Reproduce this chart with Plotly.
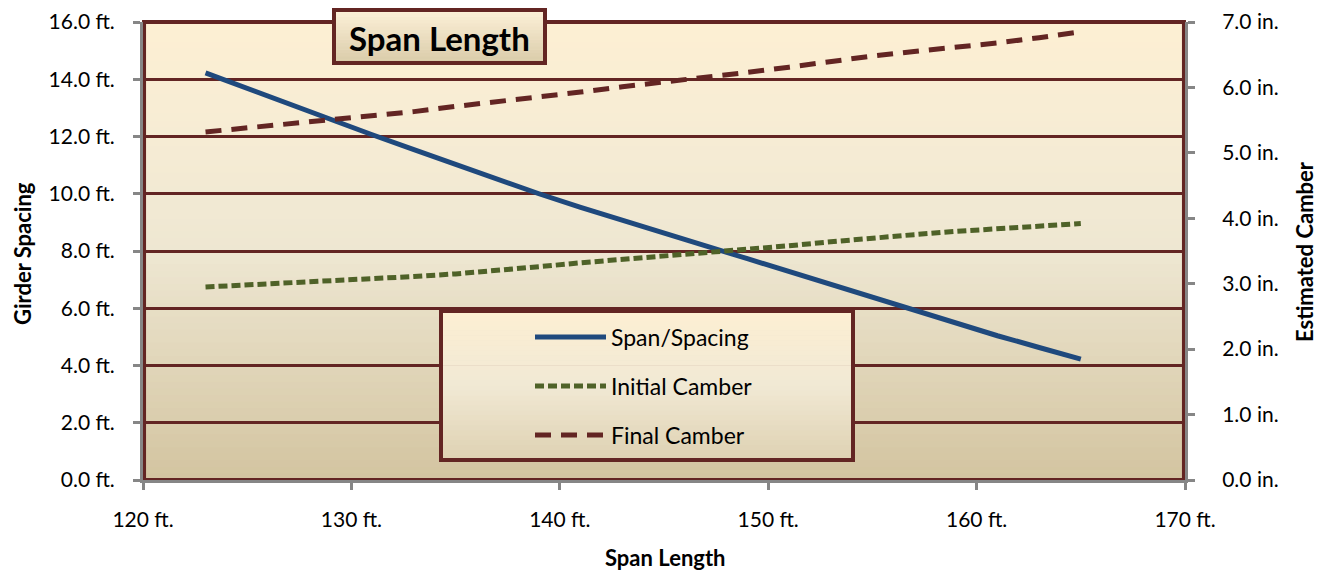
import plotly.graph_objects as go

# ---- data ----
span_ft = [123, 125, 127, 129, 131, 133, 135, 137, 139, 141, 143,
           145, 147, 149, 151, 153, 155, 157, 159, 161, 163, 165]
span_spacing_ft = [14.22, 13.67, 13.13, 12.59, 12.06, 11.54, 11.02, 10.51, 10.00, 9.52, 9.06,
                   8.62, 8.18, 7.73, 7.28, 6.83, 6.38, 5.90, 5.46, 5.04, 4.63, 4.22]
initial_camber_in = [2.95, 2.98, 3.01, 3.04, 3.07, 3.11, 3.15, 3.20, 3.26, 3.32, 3.37,
                     3.42, 3.47, 3.52, 3.58, 3.64, 3.70, 3.75, 3.80, 3.84, 3.88, 3.92]
final_camber_in = [5.32, 5.38, 5.44, 5.50, 5.56, 5.63, 5.71, 5.78, 5.85, 5.93, 6.01,
                   6.08, 6.15, 6.23, 6.31, 6.40, 6.48, 6.55, 6.61, 6.68, 6.76, 6.85]
series_names = ["Span/Spacing", "Initial Camber", "Final Camber"]
x_ticks = [120, 130, 140, 150, 160, 170]
y_left_ticks = [0, 2, 4, 6, 8, 10, 12, 14, 16]
y_right_ticks = [0, 1, 2, 3, 4, 5, 6, 7]

# ---- styles ----
BLUE = "#1F497D"
GREEN = "#4F6228"
MAROON = "#632523"
GRAY = "#868686"
FONT = "Lato"
W, H = 1323, 571
L, R, T, B = 143, 138, 22, 91
pw, ph = W - L - R, H - T - B


def hex_rgb(c):
    return [int(c[i:i + 2], 16) for i in (1, 3, 5)]


def grad_color(stops, t):
    for (p0, c0), (p1, c1) in zip(stops[:-1], stops[1:]):
        if p0 <= t <= p1:
            f = (t - p0) / (p1 - p0)
            a, b = hex_rgb(c0), hex_rgb(c1)
            return "rgb(%d,%d,%d)" % tuple(round(a[k] + (b[k] - a[k]) * f) for k in range(3))
    return stops[-1][1]


def px_x(p):
    return (p - L) / pw


def px_y(p):
    return (H - B - p) / ph


fig = go.Figure()
fig.add_trace(go.Scatter(x=span_ft, y=span_spacing_ft, name=series_names[0], mode="lines",
                         line=dict(color=BLUE, width=5), yaxis="y"))
fig.add_trace(go.Scatter(x=span_ft, y=initial_camber_in, name=series_names[1], mode="lines",
                         line=dict(color=GREEN, width=5, dash="9px,4px"), yaxis="y2"))
fig.add_trace(go.Scatter(x=span_ft, y=final_camber_in, name=series_names[2], mode="lines",
                         line=dict(color=MAROON, width=5, dash="16px,10px"), yaxis="y2"))

shapes = []
bg_stops = [(0.0, "#D3C4A0"), (0.5, "#EEE7D2"), (0.75, "#F6ECD4"), (1.0, "#FDEFD3")]
N = 70
for i in range(N):
    shapes.append(dict(type="rect", xref="paper", yref="paper", x0=0, x1=1,
                       y0=i / N, y1=(i + 1) / N + 0.002, layer="below",
                       fillcolor=grad_color(bg_stops, (i + 0.5) / N),
                       line=dict(width=0)))
shapes.append(dict(type="rect", xref="paper", yref="paper", x0=0.001, x1=0.999, y0=0.0, y1=1.0,
                   line=dict(color=MAROON, width=4), layer="below"))

# legend box (gradient)
box_stops = [(0.0, "#DED1B2"), (0.5, "#F1E9D4"), (1.0, "#FDEFD3")]
lx0, lx1, ly0, ly1 = 441, 853, 311, 460
NL = 30
for i in range(NL):
    yy0 = ly1 - (ly1 - ly0) * i / NL
    yy1 = ly1 - (ly1 - ly0) * (i + 1) / NL - 0.5
    shapes.append(dict(type="rect", xref="paper", yref="paper",
                       x0=px_x(lx0), x1=px_x(lx1), y0=px_y(yy0), y1=px_y(yy1),
                       fillcolor=grad_color(box_stops, (i + 0.5) / NL),
                       line=dict(width=0), layer="above"))
shapes.append(dict(type="rect", xref="paper", yref="paper",
                   x0=px_x(lx0), x1=px_x(lx1), y0=px_y(ly1), y1=px_y(ly0),
                   line=dict(color=MAROON, width=4), layer="above"))
legend_rows = [(337, BLUE, "solid"), (386, GREEN, "9px,4px"), (435, MAROON, "16px,10px")]
annotations = []
for (yy, col, dash), name in zip(legend_rows, series_names):
    shapes.append(dict(type="line", xref="paper", yref="paper",
                       x0=px_x(535), x1=px_x(606), y0=px_y(yy), y1=px_y(yy),
                       line=dict(color=col, width=5, dash=dash), layer="above"))
    annotations.append(dict(xref="paper", yref="paper", x=px_x(609), y=px_y(yy),
                            xanchor="left", yanchor="middle", showarrow=False, text=name,
                            font=dict(family=FONT, size=23, color="#000000")))

# title box
tx0, tx1, ty0, ty1 = 334, 545, 10, 63
NT = 16
title_stops = [(0.0, "#D9CBA9"), (1.0, "#FDF1D8")]
for i in range(NT):
    yy0 = ty1 - (ty1 - ty0) * i / NT
    yy1 = ty1 - (ty1 - ty0) * (i + 1) / NT - 0.5
    shapes.append(dict(type="rect", xref="paper", yref="paper",
                       x0=px_x(tx0), x1=px_x(tx1), y0=px_y(yy0), y1=px_y(yy1),
                       fillcolor=grad_color(title_stops, (i + 0.5) / NT),
                       line=dict(width=0), layer="above"))
shapes.append(dict(type="rect", xref="paper", yref="paper",
                   x0=px_x(tx0), x1=px_x(tx1), y0=px_y(ty1), y1=px_y(ty0),
                   line=dict(color=MAROON, width=4), layer="above"))
annotations.append(dict(xref="paper", yref="paper", x=px_x((tx0 + tx1) / 2), y=px_y((ty0 + ty1) / 2 + 1),
                        xanchor="center", yanchor="middle", showarrow=False,
                        text="<b>Span Length</b>", font=dict(family=FONT, size=33, color="#000000")))

# axis titles
title_font = dict(family=FONT, size=22, color="#000000")
annotations.append(dict(xref="paper", yref="paper", x=px_x(665), y=px_y(557),
                        xanchor="center", yanchor="middle", showarrow=False,
                        text="<b>Span Length</b>", font=title_font))
annotations.append(dict(xref="paper", yref="paper", x=px_x(22), y=px_y(254),
                        xanchor="center", yanchor="middle", showarrow=False, textangle=-90,
                        text="<b>Girder Spacing</b>", font=title_font))
annotations.append(dict(xref="paper", yref="paper", x=px_x(1305), y=px_y(252),
                        xanchor="center", yanchor="middle", showarrow=False, textangle=-90,
                        text="<b>Estimated Camber</b>", font=title_font))

axis_common = dict(zeroline=False, showline=True, linecolor=GRAY, linewidth=3,
                   ticks="outside", ticklen=7, tickwidth=3, tickcolor=GRAY, automargin=False,
                   tickfont=dict(family=FONT, size=21, color="#000000"))

fig.update_layout(
    width=W, height=H,
    margin=dict(l=L, r=R, t=T, b=B, pad=0, autoexpand=False),
    paper_bgcolor="#FFFFFF",
    plot_bgcolor="rgba(0,0,0,0)",
    showlegend=False,
    font=dict(family=FONT, size=20, color="#000000"),
    shapes=shapes,
    annotations=annotations,
    xaxis=dict(range=[120, 170], tickvals=x_ticks, ticktext=["%d ft." % v for v in x_ticks],
               showgrid=False, ticklabelstandoff=12, **axis_common),
    yaxis=dict(range=[0, 16], tickvals=y_left_ticks, ticktext=["%.1f ft." % v for v in y_left_ticks],
               showgrid=True, gridcolor=MAROON, gridwidth=3, ticklabelstandoff=14,
               **axis_common),
    yaxis2=dict(range=[0, 7], tickvals=y_right_ticks, ticktext=["%.1f in." % v for v in y_right_ticks],
                overlaying="y", side="right", showgrid=False, ticklabelstandoff=23,
                **axis_common),
)

fig.write_html("out.html", config={"displayModeBar": False},
               post_script="document.body.style.margin='0px';")
